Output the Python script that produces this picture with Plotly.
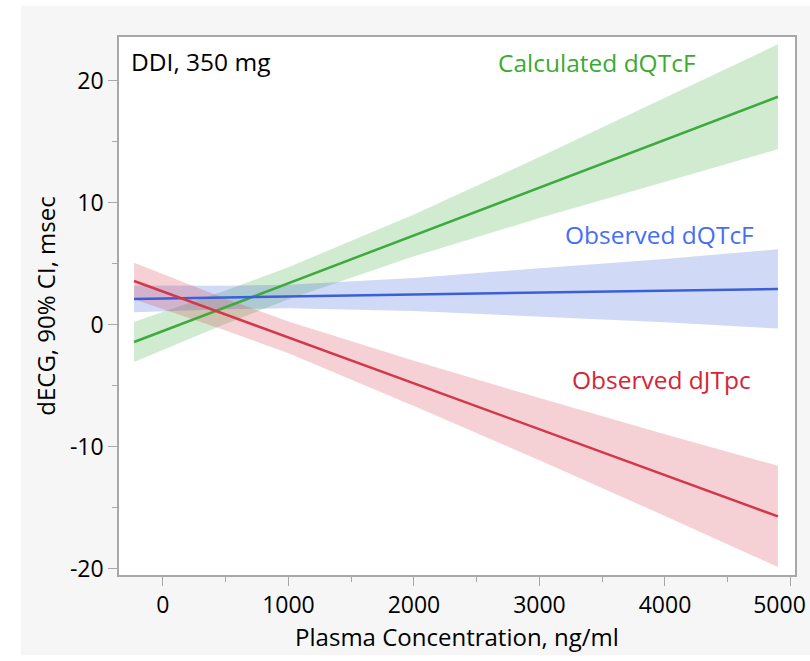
import plotly.graph_objects as go

conc = [-230, 500, 1000, 2000, 3000, 4000, 4900]

# Calculated dQTcF
calc_mean = [-1.4, 1.46, 3.42, 7.34, 11.26, 15.17, 18.7]
calc_hw = [1.65, 1.37, 1.31, 1.72, 2.5, 3.43, 4.3]

# Observed dQTcF
obs_mean = [2.13, 2.25, 2.33, 2.49, 2.65, 2.81, 2.95]
obs_hw = [1.1, 0.97, 0.97, 1.35, 2.0, 2.6, 3.25]

# Observed dJTpc
jt_mean = [3.6, 0.85, -1.03, -4.79, -8.55, -12.31, -15.7]
jt_hw = [1.5, 1.3, 1.3, 1.85, 2.55, 3.35, 4.15]

x_ticks = [0, 1000, 2000, 3000, 4000, 5000]
x_ticktext = ["0", "1000", "2000", "3000", "4000", "5000"]
y_ticks = [-20, -10, 0, 10, 20]
y_ticktext = ["-20", "-10", "0", "10", "20"]

series = [
    ("Calculated dQTcF", calc_mean, calc_hw, "rgb(61,170,61)", "rgba(61,170,61,0.24)", "rgb(60,170,50)"),
    ("Observed dQTcF", obs_mean, obs_hw, "rgb(58,95,215)", "rgba(58,95,215,0.24)", "rgb(70,110,245)"),
    ("Observed dJTpc", jt_mean, jt_hw, "rgb(212,55,75)", "rgba(212,55,75,0.23)", "rgb(215,35,55)"),
]

FONT = "Open Sans"
fig = go.Figure()

for name, mean, hw, lc, fc, tc in series:
    upper = [m + h for m, h in zip(mean, hw)]
    lower = [m - h for m, h in zip(mean, hw)]
    fig.add_trace(go.Scatter(x=conc + conc[::-1], y=upper + lower[::-1], fill="toself",
                             fillcolor=fc, line=dict(width=0), mode="lines",
                             hoverinfo="skip", showlegend=False))
for name, mean, hw, lc, fc, tc in series:
    fig.add_trace(go.Scatter(x=conc, y=mean, mode="lines", line=dict(color=lc, width=2.5),
                             name=name, showlegend=False))

# invisible trace so the overlay axis (carrying the shifted last label) is drawn
fig.add_trace(go.Scatter(x=[x_ticks[-1]], y=[0], xaxis="x2", mode="markers",
                         marker=dict(opacity=0), hoverinfo="skip", showlegend=False))

labels = [
    ("DDI, 350 mg", -268, 21.6, "left", "black"),
    ("Calculated dQTcF", 3458, 21.5, "center", series[0][5]),
    ("Observed dQTcF", 3960, 7.4, "center", series[1][5]),
    ("Observed dJTpc", 3976, -4.5, "center", series[2][5]),
]
for text, x, y, anchor, col in labels:
    fig.add_annotation(x=x, y=y, xref="x", yref="y", text=text, showarrow=False,
                       xanchor=anchor, yanchor="middle",
                       font=dict(family=FONT, size=24.5, color=col))

# gray panel background and white plot area
fig.add_shape(type="rect", xref="paper", yref="paper", x0=-0.145, x1=1.03, y0=-0.149, y1=1.058,
              fillcolor="#f6f6f6", line=dict(width=0), layer="below")
fig.add_shape(type="rect", xref="paper", yref="paper", x0=0, x1=1, y0=0, y1=1,
              fillcolor="white", line=dict(width=0), layer="below")

axis_common = dict(showgrid=False, zeroline=False, showline=True, linecolor="#a8a8a8",
                   linewidth=1.5, mirror=True, ticks="outside", tickcolor="#a8a8a8",
                   ticklen=9, tickwidth=1, automargin=False)

XRANGE = [-350, 5036]
fig.update_layout(
    xaxis=dict(range=XRANGE, tickvals=x_ticks, ticktext=x_ticktext[:-1] + [""],
               tickfont=dict(family=FONT, size=23, color="black"),
               title=dict(text="Plasma Concentration, ng/ml", font=dict(family=FONT, size=24, color="black"), standoff=6),
               minor=dict(dtick=500, tick0=0, ticks="outside", ticklen=5, tickcolor="#a8a8a8"),
               **axis_common),
    xaxis2=dict(range=XRANGE, overlaying="x", side="bottom", anchor="y",
                tickvals=x_ticks[-1:], ticktext=x_ticktext[-1:], ticks="outside", ticklen=9,
                tickcolor="rgba(0,0,0,0)", ticklabelshift=-11,
                tickfont=dict(family=FONT, size=23, color="black"),
                showgrid=False, zeroline=False, showline=False, automargin=False),
    yaxis=dict(range=[-20.5, 23.6], tickvals=y_ticks, ticktext=y_ticktext,
               tickfont=dict(family=FONT, size=23, color="black"),
               title=dict(text="dECG, 90% CI, msec", font=dict(family=FONT, size=24, color="black"), standoff=8),
               minor=dict(dtick=5, tick0=0, ticks="outside", ticklen=5, tickcolor="#a8a8a8"),
               **axis_common),
)

fig.update_layout(width=810, height=661, margin=dict(l=119, r=15, t=37, b=86, autoexpand=False),
                  paper_bgcolor="white", plot_bgcolor="rgba(0,0,0,0)", showlegend=False)

fig.write_html("out.html")
